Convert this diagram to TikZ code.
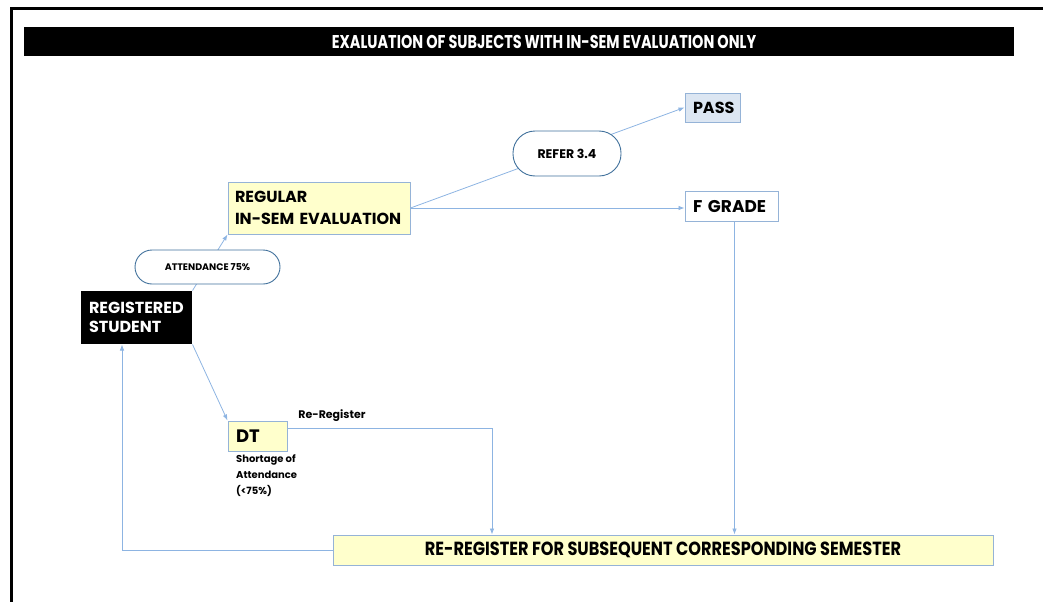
\documentclass[tikz,border=0pt]{standalone}
\usepackage{fontspec}
\setmainfont{Poppins}
\newfontfamily\narrowfont[FakeStretch=0.78]{Poppins}
\newfontfamily\semifont[FakeStretch=0.85]{Poppins}
\usetikzlibrary{arrows.meta}
\definecolor{boxblue}{HTML}{95B3D7}
\definecolor{pillblue}{HTML}{41719C}
\definecolor{lineblue}{HTML}{8DB4E2}
\definecolor{paleyellow}{HTML}{FFFFCC}
\definecolor{paleblue}{HTML}{DCE6F2}

\begin{document}
\begin{tikzpicture}[x=1pt,y=-1pt,
    box/.style={draw=boxblue,line width=1pt,inner xsep=8pt,inner ysep=0pt,align=left,
      font=\bfseries\fontsize{16}{19}\selectfont},
    pill/.style={draw=pillblue,fill=white,line width=0.9pt,inner sep=0pt,font=\bfseries},
    link/.style={draw=lineblue,line width=0.8pt,-{Latex[length=6pt,width=4.5pt]}}]
  \useasboundingbox (0,0) rectangle (1043,602);
  \draw[line width=3pt] (1043,9) -- (11,9) -- (11,602);
  \fill (24,27) rectangle (1014,56);
  \node[inner sep=0pt,text=white,
    font=\narrowfont\bfseries\fontsize{18.5}{20}\selectfont] (title) at (544,41.5)
    {EXALUATION OF SUBJECTS WITH IN-SEM EVALUATION ONLY};
  % boxes
  \node[box,fill=paleblue,minimum height=29pt,text width=39pt] (pass) at (712.5,107.5) {PASS};
  \node[box,fill=white,minimum height=30pt,text width=77pt,
    font=\bfseries\fontsize{17}{19}\selectfont] (fgrade) at (731.5,206.5) {F GRADE};
  \node[box,fill=paleyellow,minimum height=52pt,text width=168pt,inner xsep=7pt,
    font=\bfseries\fontsize{16}{22}\selectfont] (reg) at (319,208) {REGULAR\\IN-SEM EVALUATION};
  \node[box,draw=none,fill=black,text=white,minimum height=53pt,text width=95pt] (rs) at (136.5,317.5) {REGISTERED\\STUDENT};
  \node[box,fill=paleyellow,minimum height=30pt,text width=43pt,
    font=\bfseries\fontsize{18}{20}\selectfont] (dt) at (257.5,436) {DT};
  \node[box,fill=paleyellow,minimum width=660pt,minimum height=30pt,align=center,
    font=\semifont\bfseries\fontsize{19}{20}\selectfont] (rereg) at (663,550)
    {RE-REGISTER FOR SUBSEQUENT CORRESPONDING SEMESTER};
  % connectors
  \draw[link] (rs.north east) -- (reg.south west);
  \draw[link] (reg.east) -- (pass.west);
  \draw[link] (reg.east) -- (reg.east -| fgrade.west);
  \draw[link] ([xshift=3pt]fgrade.south) -- ([xshift=3pt]fgrade.south |- rereg.north);
  \draw[link] (rs.south east) -- (dt.north west);
  \draw[link] ([yshift=-8pt]dt.north east) -| ([xshift=-171pt]rereg.north);
  \draw[link] (rereg.west) -| ([xshift=-14.5pt]rs.south);
  % pills over the lines
  \node[pill,minimum width=108pt,minimum height=45pt,rounded corners=22pt,
    font=\bfseries\fontsize{12.5}{14}\selectfont] (refer) at (567,153.5) {REFER 3.4};
  \node[pill,minimum width=145pt,minimum height=34pt,rounded corners=17pt,
    font=\bfseries\fontsize{9.5}{11}\selectfont] (attend) at (207.5,267) {ATTENDANCE 75\%};
  % labels
  \node[font=\bfseries\fontsize{11}{13}\selectfont,inner sep=0pt] (rrlabel) at (332,416) {Re-Register};
  \node[anchor=north west,align=left,inner sep=0pt,
    font=\bfseries\fontsize{10}{16}\selectfont] (short) at (236,454)
    {Shortage of\\Attendance\\(<75\%)};
\end{tikzpicture}
\end{document}
